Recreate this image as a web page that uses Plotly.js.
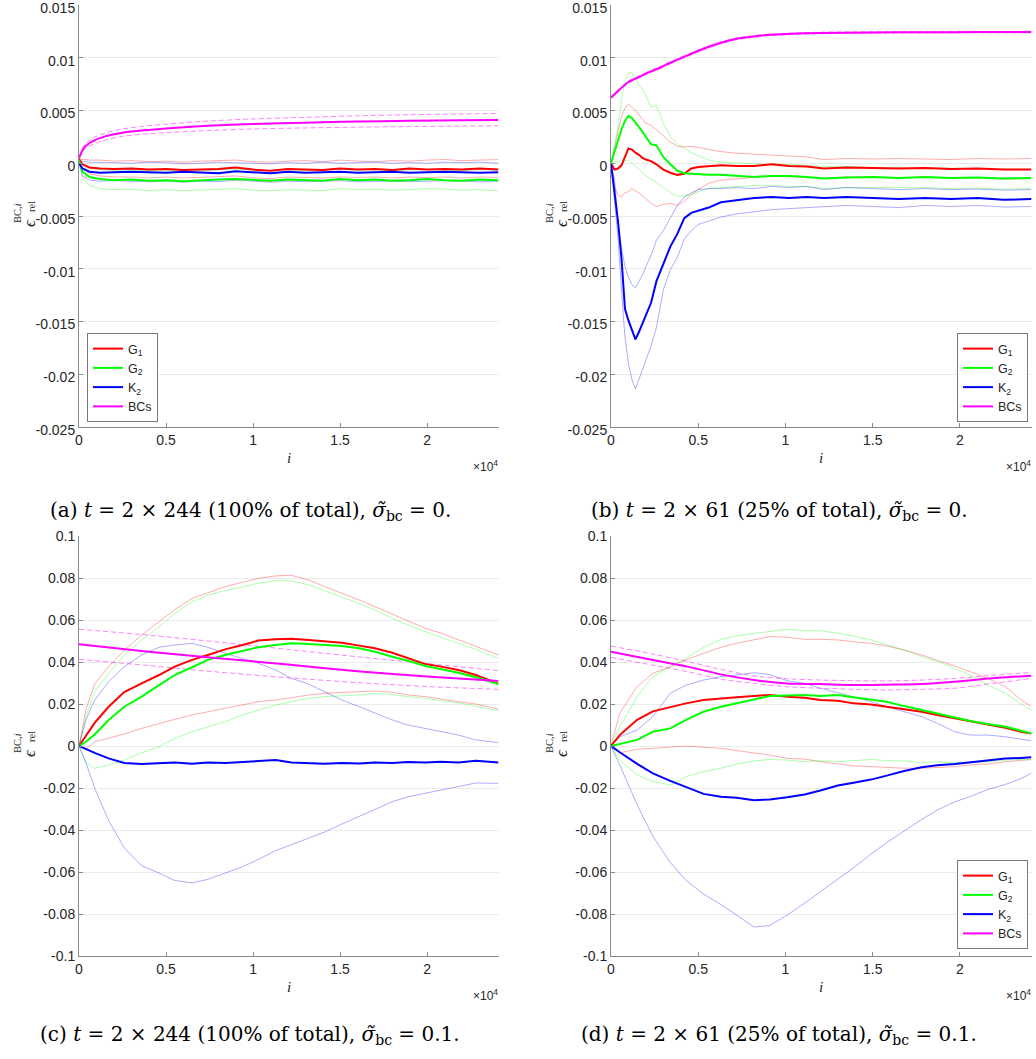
<!DOCTYPE html>
<html>
<head>
<meta charset="utf-8">
<script src="https://cdn.plot.ly/plotly-3.0.1.min.js"></script>
<style>
  html, body { margin: 0; padding: 0; background: #ffffff; }
  #chart { width: 1036px; height: 1059px; }
</style>
</head>
<body>
<div id="chart"></div>
<script>
// ---------------------------------------------------------------
// Relative BC error per iteration i, four runs (a)-(d).
// Panels (a),(b): values in units of 1e-3.  Panels (c),(d): plain values.
// Each estimator has a mean curve (thick) and a lower/upper band (light).
// ---------------------------------------------------------------

// ---------- panel (a) ----------
const a_x = [0, 200, 600, 1200, 2000, 3000, 4000, 5000, 6000, 7000, 8000, 9000, 10000, 11000, 12000, 13000, 14000, 15000, 16000, 17000, 18000, 19000, 20000, 21000, 22000, 23000, 24100];
const a_g1    = [0.4, -0.1, -0.4, -0.5, -0.55, -0.5, -0.6, -0.55, -0.65, -0.6, -0.55, -0.4, -0.6, -0.7, -0.55, -0.6, -0.65, -0.5, -0.6, -0.55, -0.65, -0.5, -0.6, -0.55, -0.6, -0.5, -0.6];
const a_g1_hi = [0.4, 0.35, 0.3, 0.3, 0.2, 0.25, 0.15, 0.2, 0.1, 0.2, 0.25, 0.3, 0.15, 0.1, 0.2, 0.25, 0.15, 0.3, 0.2, 0.15, 0.25, 0.2, 0.3, 0.35, 0.25, 0.3, 0.35];
const a_g1_lo = [0.4, -0.5, -1.0, -1.2, -1.3, -1.3, -1.4, -1.3, -1.4, -1.35, -1.3, -1.2, -1.4, -1.45, -1.3, -1.35, -1.4, -1.3, -1.35, -1.3, -1.4, -1.3, -1.35, -1.3, -1.4, -1.3, -1.35];
const a_g2    = [0.3, -0.8, -1.3, -1.5, -1.6, -1.55, -1.65, -1.6, -1.7, -1.6, -1.55, -1.5, -1.6, -1.65, -1.55, -1.6, -1.65, -1.5, -1.6, -1.55, -1.65, -1.6, -1.5, -1.6, -1.65, -1.55, -1.6];
const a_g2_hi = [0.3, -0.2, -0.5, -0.6, -0.7, -0.65, -0.7, -0.65, -0.75, -0.7, -0.6, -0.55, -0.65, -0.7, -0.6, -0.7, -0.7, -0.55, -0.65, -0.6, -0.7, -0.65, -0.6, -0.65, -0.7, -0.6, -0.65];
const a_g2_lo = [0.3, -1.4, -2.1, -2.4, -2.5, -2.45, -2.6, -2.5, -2.6, -2.55, -2.5, -2.4, -2.55, -2.6, -2.5, -2.55, -2.6, -2.4, -2.5, -2.45, -2.55, -2.5, -2.4, -2.45, -2.55, -2.5, -2.6];
const a_k2    = [0, -0.5, -0.8, -0.9, -0.85, -0.8, -0.85, -0.9, -0.8, -0.9, -0.95, -0.75, -0.85, -0.95, -0.8, -0.9, -0.85, -0.8, -0.9, -0.85, -0.8, -0.9, -0.85, -0.8, -0.85, -0.9, -0.85];
const a_k2_hi = [0.3, 0.2, 0.1, 0.1, 0.05, 0.0, 0.1, 0.05, -0.05, 0.0, 0.1, 0.05, 0.0, -0.05, 0.05, 0.0, 0.1, 0.0, 0.05, 0.1, 0.0, 0.05, 0.0, 0.1, 0.05, 0.1, 0.0];
const a_k2_lo = [0, -1.2, -1.6, -1.7, -1.65, -1.7, -1.75, -1.7, -1.8, -1.7, -1.75, -1.6, -1.7, -1.8, -1.7, -1.75, -1.7, -1.65, -1.75, -1.7, -1.7, -1.75, -1.7, -1.65, -1.7, -1.75, -1.7];
const a_bc_x  = [0, 300, 800, 1500, 2500, 3600, 5000, 7400, 10000, 13000, 16000, 19000, 22000, 24100];
const a_bc    = [0.5, 1.5, 2.1, 2.55, 2.9, 3.1, 3.3, 3.55, 3.72, 3.85, 3.95, 4.02, 4.07, 4.1];
const a_bc_hi = [0.6, 1.7, 2.4, 2.85, 3.25, 3.5, 3.7, 4.0, 4.2, 4.35, 4.5, 4.6, 4.67, 4.72];
const a_bc_lo = [0.4, 1.3, 1.8, 2.2, 2.55, 2.75, 2.9, 3.1, 3.25, 3.35, 3.42, 3.48, 3.52, 3.55];

// ---------- panel (b) ----------
const b_x = [0, 200, 400, 600, 800, 1000, 1200, 1400, 1600, 1800, 2000, 2300, 2600, 3000, 3400, 3800, 4200, 4600, 5000, 5600, 6300, 7200, 8200, 9200, 10200, 11200, 12200, 13500, 15000, 16500, 18000, 19500, 21000, 22500, 24100];
const b_g1    = [0, -0.6, -0.5, -0.2, 0.6, 1.4, 1.3, 1.0, 0.8, 0.5, 0.35, 0.2, -0.1, -0.6, -0.9, -1.1, -1.0, -0.5, -0.35, -0.25, -0.2, -0.25, -0.25, -0.1, -0.25, -0.3, -0.5, -0.4, -0.45, -0.5, -0.45, -0.55, -0.5, -0.6, -0.6];
const b_g1_hi = [0, 1.5, 2.8, 4.4, 5.2, 5.6, 5.3, 5.0, 4.6, 4.2, 3.8, 3.6, 3.2, 2.6, 2.0, 1.6, 1.55, 1.6, 1.5, 1.3, 1.1, 0.95, 0.85, 0.8, 0.7, 0.6, 0.35, 0.45, 0.4, 0.45, 0.4, 0.35, 0.45, 0.4, 0.45];
const b_g1_lo = [0, -2.2, -3.0, -3.2, -2.8, -2.7, -2.4, -2.6, -2.8, -3.1, -3.4, -3.8, -4.1, -3.9, -3.8, -4.0, -3.6, -3.0, -2.5, -1.9, -1.6, -1.45, -1.35, -1.2, -1.25, -1.3, -1.4, -1.3, -1.35, -1.4, -1.3, -1.45, -1.4, -1.5, -1.45];
const b_g2    = [0, 1.1, 2.3, 3.2, 4.0, 4.5, 4.3, 3.9, 3.5, 3.0, 2.5, 1.8, 1.7, 0.6, -0.1, -0.7, -0.95, -1.0, -1.05, -1.1, -1.1, -1.2, -1.3, -1.2, -1.2, -1.3, -1.45, -1.35, -1.3, -1.4, -1.3, -1.4, -1.35, -1.45, -1.4];
const b_g2_hi = [0, 1.8, 3.4, 6.0, 7.8, 8.5, 8.6, 8.0, 7.4, 7.0, 6.4, 5.3, 5.5, 3.8, 2.5, 1.8, 1.4, 1.0, 0.7, 0.3, 0.1, 0.0, -0.05, -0.1, -0.1, -0.2, -0.3, -0.3, -0.4, -0.4, -0.45, -0.5, -0.5, -0.6, -0.6];
const b_g2_lo = [0, 0.2, 0.1, 0.3, 0.2, 0.3, 0.0, -0.3, -0.6, -0.9, -1.2, -1.5, -1.8, -2.3, -2.8, -3.1, -3.1, -3.0, -2.7, -2.4, -2.3, -2.2, -2.1, -2.1, -2.2, -2.2, -2.4, -2.3, -2.3, -2.35, -2.3, -2.4, -2.35, -2.45, -2.4];
const b_k2    = [0, -2.5, -5.5, -9.0, -13.8, -14.9, -15.8, -16.7, -16.0, -15.2, -14.3, -13.2, -11.2, -9.5, -7.9, -6.7, -5.2, -4.7, -4.5, -4.2, -3.7, -3.5, -3.3, -3.2, -3.3, -3.2, -3.3, -3.2, -3.3, -3.4, -3.3, -3.4, -3.3, -3.45, -3.4];
const b_k2_hi = [0, -1.5, -5.5, -8.0, -9.8, -10.8, -11.5, -11.8, -11.2, -10.6, -9.8, -8.7, -7.3, -6.4, -5.2, -4.0, -3.2, -2.8, -2.5, -2.4, -2.4, -2.3, -2.4, -2.2, -2.3, -2.2, -2.5, -2.3, -2.4, -2.5, -2.4, -2.5, -2.45, -2.55, -2.5];
const b_k2_lo = [0, -3.5, -7.0, -12.0, -16.5, -19.0, -20.5, -21.4, -20.5, -19.6, -18.7, -17.3, -15.6, -12.0, -10.1, -8.9, -7.2, -6.4, -5.8, -5.5, -5.1, -4.8, -4.6, -4.4, -4.3, -4.2, -4.1, -4.0, -4.1, -4.2, -4.0, -4.1, -4.0, -4.15, -4.1];
const b_bc_x  = [0, 500, 1000, 1500, 2000, 2800, 3500, 4350, 5300, 6260, 7200, 8180, 9100, 10100, 12000, 15000, 18000, 21000, 24100];
const b_bc    = [6.23, 7.0, 7.7, 8.1, 8.5, 9.05, 9.6, 10.2, 10.85, 11.4, 11.8, 12.02, 12.17, 12.26, 12.35, 12.4, 12.42, 12.43, 12.43];
const b_bc_hi = [6.33, 7.1, 7.8, 8.2, 8.6, 9.15, 9.7, 10.3, 10.95, 11.5, 11.88, 12.1, 12.24, 12.33, 12.42, 12.47, 12.49, 12.5, 12.5];
const b_bc_lo = [6.13, 6.9, 7.6, 8.0, 8.4, 8.95, 9.5, 10.1, 10.75, 11.3, 11.72, 11.94, 12.1, 12.19, 12.28, 12.33, 12.35, 12.36, 12.36];

// ---------- panel (c) ----------
const c_x = [0, 400, 900, 1700, 2600, 3600, 4600, 5500, 6500, 7400, 8400, 9400, 10300, 11300, 12200, 13200, 14100, 15100, 16100, 17000, 18000, 18900, 19900, 20800, 21800, 22800, 24100];
const c_g1    = [0, 0.005, 0.011, 0.0187, 0.0257, 0.0298, 0.0338, 0.0378, 0.041, 0.0433, 0.046, 0.0481, 0.0502, 0.0508, 0.0511, 0.0505, 0.05, 0.0492, 0.0478, 0.0465, 0.0444, 0.0417, 0.039, 0.0378, 0.0362, 0.0338, 0.0295];
const c_g1_hi = [0, 0.0175, 0.0295, 0.0378, 0.0455, 0.0529, 0.0592, 0.0648, 0.0703, 0.073, 0.0759, 0.078, 0.0798, 0.081, 0.0813, 0.079, 0.0759, 0.0727, 0.0695, 0.0663, 0.0624, 0.0592, 0.056, 0.0537, 0.0505, 0.0476, 0.0433];
const c_g1_lo = [0, -0.0015, 0.002, 0.0037, 0.0057, 0.0084, 0.0108, 0.0127, 0.0148, 0.0163, 0.0179, 0.0195, 0.0211, 0.0219, 0.0232, 0.0243, 0.0251, 0.0254, 0.0259, 0.0262, 0.0256, 0.0243, 0.0235, 0.0222, 0.0211, 0.02, 0.0176];
const c_g2    = [0, 0.002, 0.0055, 0.0124, 0.0187, 0.0235, 0.029, 0.0338, 0.0375, 0.041, 0.0433, 0.0454, 0.047, 0.0481, 0.0489, 0.0486, 0.0481, 0.0476, 0.0465, 0.0449, 0.0425, 0.0406, 0.0381, 0.0365, 0.0349, 0.0327, 0.0295];
const c_g2_hi = [0, 0.014, 0.026, 0.0346, 0.0433, 0.0505, 0.0568, 0.0632, 0.0687, 0.0719, 0.074, 0.0759, 0.0775, 0.0787, 0.0786, 0.0767, 0.074, 0.0711, 0.0679, 0.0648, 0.0608, 0.0576, 0.0544, 0.0517, 0.0489, 0.046, 0.0417];
const c_g2_lo = [0, -0.008, -0.0106, -0.009, -0.0067, -0.0032, -0.0003, 0.0037, 0.0068, 0.0092, 0.0116, 0.0148, 0.0171, 0.0195, 0.0211, 0.0227, 0.0235, 0.0238, 0.0243, 0.0251, 0.0246, 0.0235, 0.0227, 0.0216, 0.0206, 0.019, 0.0168];
const c_k2    = [0, -0.0015, -0.0033, -0.0059, -0.0081, -0.0086, -0.0082, -0.0078, -0.0084, -0.0079, -0.0081, -0.0077, -0.0072, -0.0067, -0.0078, -0.0082, -0.0084, -0.0081, -0.0083, -0.0079, -0.0081, -0.0076, -0.0078, -0.0075, -0.0078, -0.007, -0.0079];
const c_k2_hi = [0, 0.0124, 0.0219, 0.0306, 0.0378, 0.0433, 0.047, 0.0481, 0.0489, 0.047, 0.0441, 0.0417, 0.0394, 0.0362, 0.0322, 0.0295, 0.0259, 0.0219, 0.0187, 0.0156, 0.0124, 0.01, 0.0084, 0.0068, 0.0052, 0.0029, 0.0016];
const c_k2_lo = [0, -0.008, -0.02, -0.0355, -0.0485, -0.057, -0.0605, -0.064, -0.0652, -0.0635, -0.0605, -0.0575, -0.054, -0.0498, -0.047, -0.0438, -0.041, -0.0372, -0.0335, -0.03, -0.0265, -0.0242, -0.0225, -0.021, -0.0192, -0.0176, -0.0178];
const c_bc_x  = [0, 4000, 8000, 12000, 16000, 20000, 24100];
const c_bc    = [0.0484, 0.0449, 0.0418, 0.0388, 0.0356, 0.0331, 0.031];
const c_bc_hi = [0.0556, 0.0528, 0.0495, 0.046, 0.0425, 0.0392, 0.0359];
const c_bc_lo = [0.0413, 0.0383, 0.0352, 0.0325, 0.0302, 0.0283, 0.027];

// ---------- panel (d) ----------
const d_x = [0, 500, 1500, 2400, 3400, 4300, 5300, 6300, 7200, 8200, 9100, 10100, 11100, 12000, 13000, 13900, 14900, 15800, 16800, 17800, 18700, 19700, 20600, 21600, 22600, 23500, 24100];
const d_g1    = [0, 0.0052, 0.0125, 0.0165, 0.0185, 0.0203, 0.0219, 0.0227, 0.0232, 0.0238, 0.0243, 0.0235, 0.023, 0.0219, 0.0216, 0.0203, 0.0198, 0.0187, 0.0176, 0.0163, 0.0148, 0.0132, 0.0116, 0.01, 0.0087, 0.0068, 0.006];
const d_g1_hi = [0, 0.0156, 0.0283, 0.0346, 0.0378, 0.041, 0.0441, 0.047, 0.0489, 0.0505, 0.0521, 0.0518, 0.0508, 0.0508, 0.0505, 0.0497, 0.0489, 0.0476, 0.0457, 0.0433, 0.041, 0.0381, 0.0354, 0.0322, 0.0283, 0.0219, 0.0187];
const d_g1_lo = [0, -0.0032, -0.0016, -0.0011, -0.0003, 0.0, -0.0006, -0.0011, -0.0022, -0.0032, -0.0043, -0.0059, -0.0062, -0.0075, -0.0086, -0.0095, -0.0098, -0.0102, -0.0106, -0.0106, -0.0102, -0.0098, -0.009, -0.0086, -0.0075, -0.0067, -0.0064];
const d_g2    = [0, 0.001, 0.0029, 0.0068, 0.0084, 0.0124, 0.0163, 0.0187, 0.0203, 0.0222, 0.0238, 0.024, 0.0243, 0.0238, 0.0243, 0.0232, 0.0222, 0.0211, 0.019, 0.0171, 0.0156, 0.0137, 0.0119, 0.0105, 0.0092, 0.0073, 0.006];
const d_g2_hi = [0, 0.0092, 0.0235, 0.033, 0.0378, 0.0418, 0.047, 0.0508, 0.0524, 0.0537, 0.0545, 0.0556, 0.0548, 0.0549, 0.0537, 0.0524, 0.0505, 0.0481, 0.0457, 0.0425, 0.0402, 0.037, 0.0338, 0.029, 0.0251, 0.02, 0.0171];
const d_g2_lo = [0, -0.0067, -0.0138, -0.017, -0.0185, -0.0146, -0.0122, -0.0106, -0.0086, -0.0071, -0.0064, -0.0067, -0.0075, -0.007, -0.0075, -0.0071, -0.0064, -0.007, -0.0071, -0.0079, -0.0075, -0.0079, -0.0078, -0.0075, -0.0067, -0.0064, -0.0067];
const d_k2    = [0, -0.003, -0.0085, -0.013, -0.0166, -0.0196, -0.0228, -0.0242, -0.0246, -0.0258, -0.0255, -0.0244, -0.0231, -0.0212, -0.0188, -0.0175, -0.016, -0.0141, -0.0119, -0.0101, -0.0092, -0.0086, -0.0079, -0.0068, -0.006, -0.0057, -0.0054];
const d_k2_hi = [0, 0.0044, 0.0076, 0.014, 0.0251, 0.029, 0.0314, 0.033, 0.0338, 0.0349, 0.034, 0.0311, 0.0298, 0.0275, 0.0254, 0.0235, 0.0211, 0.0187, 0.0163, 0.014, 0.0108, 0.0068, 0.0052, 0.0052, 0.0044, 0.0032, 0.0025];
const d_k2_lo = [0, -0.009, -0.028, -0.043, -0.0555, -0.064, -0.0705, -0.0755, -0.0805, -0.0862, -0.0855, -0.0805, -0.0748, -0.0695, -0.0635, -0.058, -0.0515, -0.046, -0.0405, -0.035, -0.0305, -0.0266, -0.024, -0.0207, -0.0183, -0.0155, -0.013];
const d_bc_x  = [0, 2400, 4400, 6300, 8200, 10100, 12000, 13900, 15800, 17800, 19700, 21600, 24100];
const d_bc    = [0.0449, 0.041, 0.0378, 0.0341, 0.0314, 0.0298, 0.0295, 0.029, 0.0292, 0.0295, 0.0306, 0.0321, 0.0335];
const d_bc_hi = [0.0476, 0.0438, 0.0402, 0.0365, 0.0333, 0.032, 0.0314, 0.0311, 0.031, 0.0314, 0.0322, 0.0335, 0.035];
const d_bc_lo = [0.0422, 0.0385, 0.0354, 0.0318, 0.0298, 0.0282, 0.0275, 0.027, 0.0267, 0.027, 0.0275, 0.0295, 0.0322];

// ---------- axis ticks and labels ----------
const xTickVals = [0, 5000, 10000, 15000, 20000];
const xTickText = ['0', '0.5', '1', '1.5', '2'];
const yTopVals = [-0.025, -0.02, -0.015, -0.01, -0.005, 0, 0.005, 0.01, 0.015];
const yTopText = ['-0.025', '-0.02', '-0.015', '-0.01', '-0.005', '0', '0.005', '0.01', '0.015'];
const yBotVals = [-0.1, -0.08, -0.06, -0.04, -0.02, 0, 0.02, 0.04, 0.06, 0.08, 0.1];
const yBotText = ['-0.1', '-0.08', '-0.06', '-0.04', '-0.02', '0', '0.02', '0.04', '0.06', '0.08', '0.1'];
const seriesNames = ['G<sub>1</sub>', 'G<sub>2</sub>', 'K<sub>2</sub>', 'BCs'];
const captions = [
  '(a) <i>t</i> = 2 × 244 (100% of total), <i>σ̃</i><sub>bc</sub> = 0.',
  '(b) <i>t</i> = 2 × 61 (25% of total), <i>σ̃</i><sub>bc</sub> = 0.',
  '(c) <i>t</i> = 2 × 244 (100% of total), <i>σ̃</i><sub>bc</sub> = 0.1.',
  '(d) <i>t</i> = 2 × 61 (25% of total), <i>σ̃</i><sub>bc</sub> = 0.1.'
];

// ---------- figure geometry (pixels of the 1036 x 1059 page) ----------
const W = 1036, H = 1059;
const px = p => p / W;
const py = p => 1 - p / H;
const colLeft = [79, 498.5], colRight = [611, 1031.5];
const rowTop = [5, 427], rowBot = [536, 956];

const RGB = { r: '255,0,0', g: '0,255,0', b: '0,0,255', m: '255,0,255' };
const sansFont = 'Liberation Sans, Arial, Helvetica, sans-serif';
const serifFont = 'Liberation Serif, Times New Roman, serif';
const capSerif = 'DejaVu Serif, Liberation Serif, serif';

const traces = [];
function addPanel(idx, scale, xs, g1, g2, k2, bcx, bc, legendId) {
  const xa = idx === 1 ? 'x' : 'x' + idx;
  const ya = idx === 1 ? 'y' : 'y' + idx;
  const s = arr => arr.map(v => v * scale);
  const sets = [[g1, RGB.r, seriesNames[0]], [g2, RGB.g, seriesNames[1]], [k2, RGB.b, seriesNames[2]]];
  // light band edges
  sets.forEach(([d, c]) => {
    [d.hi, d.lo].forEach(arr => traces.push({
      type: 'scatter', mode: 'lines', x: xs, y: s(arr), xaxis: xa, yaxis: ya,
      line: { color: 'rgba(' + c + ',0.33)', width: 1 }, showlegend: false, hoverinfo: 'skip'
    }));
  });
  // dashed bounds of the BC estimate
  [bc.hi, bc.lo].forEach(arr => traces.push({
    type: 'scatter', mode: 'lines', x: bcx, y: s(arr), xaxis: xa, yaxis: ya,
    line: { color: 'rgba(255,0,255,0.5)', width: 1, dash: '5px,3px', shape: 'spline', smoothing: 0.6 },
    showlegend: false, hoverinfo: 'skip'
  }));
  // mean curves
  sets.forEach(([d, c, name]) => traces.push({
    type: 'scatter', mode: 'lines', x: xs, y: s(d.mean), xaxis: xa, yaxis: ya, name: name,
    line: { color: 'rgb(' + c + ')', width: 2 },
    showlegend: !!legendId, legend: legendId || 'legend'
  }));
  traces.push({
    type: 'scatter', mode: 'lines', x: bcx, y: s(bc.mean), xaxis: xa, yaxis: ya, name: seriesNames[3],
    line: { color: 'rgb(' + RGB.m + ')', width: 2, shape: 'spline', smoothing: 0.6 },
    showlegend: !!legendId, legend: legendId || 'legend'
  });
}

addPanel(1, 1e-3, a_x,
  { mean: a_g1, hi: a_g1_hi, lo: a_g1_lo }, { mean: a_g2, hi: a_g2_hi, lo: a_g2_lo }, { mean: a_k2, hi: a_k2_hi, lo: a_k2_lo },
  a_bc_x, { mean: a_bc, hi: a_bc_hi, lo: a_bc_lo }, 'legend');
addPanel(2, 1e-3, b_x,
  { mean: b_g1, hi: b_g1_hi, lo: b_g1_lo }, { mean: b_g2, hi: b_g2_hi, lo: b_g2_lo }, { mean: b_k2, hi: b_k2_hi, lo: b_k2_lo },
  b_bc_x, { mean: b_bc, hi: b_bc_hi, lo: b_bc_lo }, 'legend2');
addPanel(3, 1, c_x,
  { mean: c_g1, hi: c_g1_hi, lo: c_g1_lo }, { mean: c_g2, hi: c_g2_hi, lo: c_g2_lo }, { mean: c_k2, hi: c_k2_hi, lo: c_k2_lo },
  c_bc_x, { mean: c_bc, hi: c_bc_hi, lo: c_bc_lo }, null);
addPanel(4, 1, d_x,
  { mean: d_g1, hi: d_g1_hi, lo: d_g1_lo }, { mean: d_g2, hi: d_g2_hi, lo: d_g2_lo }, { mean: d_k2, hi: d_k2_hi, lo: d_k2_lo },
  d_bc_x, { mean: d_bc, hi: d_bc_hi, lo: d_bc_lo }, 'legend3');

function xAxis(cols, anchor) {
  return {
    domain: [px(cols[0]), px(cols[1])], anchor: anchor, range: [0, 24100],
    tickvals: xTickVals, ticktext: xTickText, ticks: 'inside', ticklen: 4, tickcolor: '#8a8a8a',
    showline: true, linecolor: '#8a8a8a', linewidth: 1, mirror: false,
    showgrid: false, zeroline: false,
    tickfont: { family: sansFont, size: 14, color: '#262626' }, fixedrange: true
  };
}
function yAxis(rows, anchor, range, vals, text, shift) {
  const span = range[1] - range[0];
  return {
    domain: [py(rows[1]), py(rows[0])], anchor: anchor, range: [range[0] - span * 1e-6, range[1] + span * 1e-6],
    tickvals: vals, ticktext: text, ticks: 'inside', ticklen: 4, tickcolor: '#8a8a8a',
    showline: true, linecolor: '#8a8a8a', linewidth: 1, mirror: false,
    showgrid: true, gridcolor: '#ebebeb', gridwidth: 1, zeroline: false,
    ticklabeloverflow: 'allow', ticklabelshift: shift,
    tickfont: { family: sansFont, size: 14, color: '#262626' }, fixedrange: true
  };
}

const annotations = [];
function note(x, y, text, opts) {
  annotations.push(Object.assign({
    xref: 'paper', yref: 'paper', x: px(x), y: py(y), text: text, showarrow: false,
    xanchor: 'center', yanchor: 'middle'
  }, opts));
}
// axis decorations for each panel
[[colLeft, rowTop], [colRight, rowTop], [colLeft, rowBot], [colRight, rowBot]].forEach(([cols, rows]) => {
  const cx = (cols[0] + cols[1]) / 2, cy = (rows[0] + rows[1]) / 2;
  // x label
  note(cx, rows[1] + 31, '<i>i</i>', { font: { family: serifFont, size: 15, color: '#262626' } });
  // shared exponent of the x ticks
  note(cols[1] + 1, rows[1] + 39, '×10<sup>4</sup>', { xanchor: 'right', font: { family: sansFont, size: 12, color: '#262626' } });
  // y label: epsilon with stacked superscript / subscript, rotated
  const A = cols[0];
  note(A - 50, cy + 7, '<i>ϵ</i>', { textangle: -90, font: { family: serifFont, size: 17, color: '#262626' } });
  note(A - 48, cy - 9, 'rel', { textangle: -90, font: { family: serifFont, size: 10.5, color: '#262626' } });
  note(A - 62, cy - 3, 'BC,<i>i</i>', { textangle: -90, font: { family: serifFont, size: 10.5, color: '#262626' } });
});
// sub-figure captions
const capFont = { family: capSerif, size: 20, color: '#000' };
note(250, 511, captions[0], { font: capFont });
note(779, 511, captions[1], { font: capFont });
note(250, 1035, captions[2], { font: capFont });
note(779, 1035, captions[3], { font: capFont });

function legendAt(x, y, xanchor) {
  return {
    x: px(x), y: py(y), xref: 'paper', yref: 'paper', xanchor: xanchor, yanchor: 'top',
    bgcolor: '#ffffff', bordercolor: '#7a7a7a', borderwidth: 1, itemwidth: 30, tracegroupgap: 0,
    font: { family: sansFont, size: 12.5, color: '#262626' }, itemclick: false, itemdoubleclick: false
  };
}

const layout = {
  width: W, height: H, margin: { l: 0, r: 0, t: 0, b: 0 },
  paper_bgcolor: '#ffffff', plot_bgcolor: '#ffffff',
  xaxis: xAxis(colLeft, 'y'), yaxis: yAxis(rowTop, 'x', [-0.025, 0.015], yTopVals, yTopText, 3),
  xaxis2: xAxis(colRight, 'y2'), yaxis2: yAxis(rowTop, 'x2', [-0.025, 0.015], yTopVals, yTopText, 3),
  xaxis3: xAxis(colLeft, 'y3'), yaxis3: yAxis(rowBot, 'x3', [-0.1, 0.1], yBotVals, yBotText, 0),
  xaxis4: xAxis(colRight, 'y4'), yaxis4: yAxis(rowBot, 'x4', [-0.1, 0.1], yBotVals, yBotText, 0),
  legend: legendAt(87, 333, 'left'),
  legend2: legendAt(1028, 333, 'right'),
  legend3: legendAt(1028, 860, 'right'),
  annotations: annotations
};

Plotly.newPlot('chart', traces, layout, { displayModeBar: false, staticPlot: true });
</script>
</body>
</html>
